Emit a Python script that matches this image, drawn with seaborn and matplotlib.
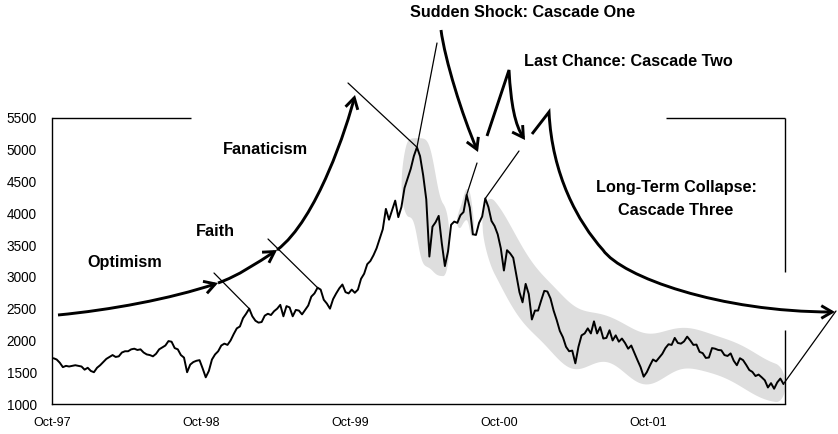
import numpy as np
import pandas as pd
import matplotlib
matplotlib.use("Agg")
import matplotlib.pyplot as plt
import seaborn as sns
from matplotlib.patches import FancyArrowPatch
from matplotlib.path import Path

# ---------------- data: index level, four readings per month ----------------
# Oct-97 .. Sep-98
year_97_98 = [1720, 1700, 1650, 1580,  1600, 1590, 1600, 1610,  1600, 1590, 1540, 1570,
              1520, 1500, 1570, 1610,  1660, 1710, 1740, 1770,  1740, 1750, 1810, 1830,
              1830, 1860, 1870, 1850,  1860, 1810, 1780, 1770,  1750, 1790, 1860, 1890,
              1920, 1990, 1980, 1880,  1860, 1770, 1730, 1500,  1620, 1660, 1680, 1690]
# Oct-98 .. Sep-99
year_98_99 = [1560, 1420, 1520, 1700,  1780, 1830, 1920, 1950,  1930, 2000, 2100, 2190,
              2220, 2350, 2420, 2500,  2380, 2310, 2280, 2290,  2390, 2420, 2400, 2460,
              2500, 2560, 2380, 2540,  2520, 2380, 2480, 2470,  2410, 2480, 2550, 2690,
              2740, 2830, 2800, 2640,  2580, 2500, 2650, 2740,  2820, 2880, 2760, 2740]
# Oct-99 .. Sep-00
year_99_00 = [2800, 2750, 2800, 2970,  3050, 3200, 3250, 3340,  3450, 3600, 3750, 4070,
              3900, 4050, 4200, 3940,  4100, 4400, 4550, 4700,  4900, 5040, 4900, 4600,
              4220, 3320, 3790, 3860,  3960, 3530, 3170, 3400,  3820, 3870, 3850, 3970,
              4020, 4290, 4090, 3670,  3660, 3850, 3950, 4234,  4100, 3880, 3800, 3670]
# Oct-00 .. Sep-01
year_00_01 = [3450, 3100, 3420, 3370,  3300, 3030, 2760, 2600,  2890, 2730, 2330, 2470,
              2470, 2630, 2780, 2770,  2660, 2470, 2320, 2150,  2050, 1900, 1830, 1840,
              1640, 1900, 2080, 2110,  2190, 2110, 2300, 2110,  2210, 2030, 2040, 2160,
              2000, 2080, 1980, 2030,  1960, 1870, 1920, 1805,  1690, 1580, 1430, 1500]
# Oct-01 .. Aug-02
year_01_02 = [1605, 1700, 1670, 1730,  1790, 1880, 1940, 1930,  2040, 1960, 1950, 1985,
              2060, 2000, 1930, 1935,  1820, 1800, 1725, 1731,  1880, 1870, 1850, 1845,
              1770, 1756, 1796, 1680,  1610, 1720, 1690, 1616,  1535, 1505, 1440, 1463,
              1420, 1373, 1260, 1328,  1240, 1340, 1400, 1315]

x_tick_labels = ["Oct-97", "Oct-98", "Oct-99", "Oct-00", "Oct-01"]
y_tick_values = [1000, 1500, 2000, 2500, 3000, 3500, 4000, 4500, 5000, 5500]

phase_labels = ["Optimism", "Faith", "Fanaticism",
                "Sudden Shock: Cascade One", "Last Chance: Cascade Two",
                "Long-Term Collapse:\nCascade Three"]

# ---------------- table ----------------
level = np.array(year_97_98 + year_98_99 + year_99_00 + year_00_01 + year_01_02, dtype=float)
month = (np.arange(len(level)) + 0.5) / 4.0      # months since 1 Oct 1997
df = pd.DataFrame({"month": month, "level": level})

X_MAX = 59.0
W_PX, H_PX = 838, 434
AX_L, AX_R, AX_T, AX_B = 52, 785, 118, 404      # axes box in image pixels


def P(px, py):
    """image pixel -> data coordinates (for annotation geometry)"""
    return ((px - AX_L) / (AX_R - AX_L) * X_MAX,
            1000 + (AX_B - py) / (AX_B - AX_T) * 4500)


sns.set_style("white")
plt.rcParams["font.family"] = ["Liberation Sans", "DejaVu Sans"]
plt.rcParams["text.color"] = "black"

fig = plt.figure(figsize=(W_PX / 100, H_PX / 100), dpi=100)
ax = fig.add_axes([AX_L / W_PX, 1 - AX_B / H_PX, (AX_R - AX_L) / W_PX, (AX_B - AX_T) / H_PX])

# ---------------- grey highlight bands derived from the series ----------------
def blob(x0, x1, W, sigma, pad_hi, pad_lo, cap_l, cap_r):
    xf = np.linspace(x0, x1, 500)
    seg = (month >= x0) & (month <= x1)
    xm, ym = month[seg], level[seg]
    hi = np.array([ym[np.abs(xm - t) <= W].max() for t in xf])
    lo = np.array([ym[np.abs(xm - t) <= W].min() for t in xf])
    dx = xf[1] - xf[0]
    n = max(1, int(3 * sigma / dx))
    k = np.arange(-n, n + 1) * dx
    g = np.exp(-0.5 * (k / sigma) ** 2)
    g /= g.sum()
    hi = np.convolve(np.pad(hi, n, mode="edge"), g, mode="valid") + pad_hi
    lo = np.convolve(np.pad(lo, n, mode="edge"), g, mode="valid") - pad_lo
    c, h = (hi + lo) / 2, (hi - lo) / 2
    tl = np.clip((xf - x0) / cap_l, 0, 1)
    tr = np.clip((x1 - xf) / cap_r, 0, 1)
    f = np.sqrt(1 - (1 - tl) ** 2) * np.sqrt(1 - (1 - tr) ** 2)
    ax.fill_between(xf, c - h * f, c + h * f, color="#dedede", lw=0, zorder=1)


blob(28.1, 31.95, 1.0, 0.3, 150, 150, 0.6, 0.5)
blob(32.55, 33.95, 0.3, 0.15, 110, 110, 0.4, 0.4)
blob(34.6, X_MAX, 1.0, 1.2, 180, 220, 1.0, 0.8)

# ---------------- the series ----------------
sns.lineplot(data=df, x="month", y="level", color="black", lw=1.4, ax=ax, zorder=3)

ax.set_xlim(0, X_MAX)
ax.set_ylim(1000, 5500)
ax.set_xlabel("")
ax.set_ylabel("")
ax.set_xticks([0, 12, 24, 36, 48])
ax.set_xticklabels(x_tick_labels, fontsize=9)
ax.set_xticks([m for m in range(1, 59) if m % 12 != 0], minor=True)
ax.set_yticks(y_tick_values)
ax.set_yticklabels([str(v) for v in y_tick_values], fontsize=9.8)
ax.tick_params(axis="x", which="major", direction="out", length=5, width=1, pad=4, colors="black")
ax.tick_params(axis="x", which="minor", direction="in", length=4, width=0.9, colors="black")
ax.tick_params(axis="y", which="major", direction="out", length=5, width=1, pad=6, colors="black")

for s in ["top", "right"]:
    ax.spines[s].set_visible(False)
for s in ["left", "bottom"]:
    ax.spines[s].set_color("black")
    ax.spines[s].set_linewidth(1.0)

# partial frame lines
frame_kw = dict(color="black", lw=1.0, clip_on=False, zorder=2, solid_capstyle="butt")
for (a, b) in [((AX_L, AX_T), (191, AX_T)), ((666, AX_T), (AX_R, AX_T)),
               ((AX_R, AX_T), (AX_R, 272)), ((AX_R, 330), (AX_R, AX_B))]:
    pa, pb = P(*a), P(*b)
    ax.plot([pa[0], pb[0]], [pa[1], pb[1]], **frame_kw)


# ---------------- thick arrows ----------------
def arrow(points, codes):
    verts = [P(*p) for p in points]
    pa = FancyArrowPatch(path=Path(verts, codes), arrowstyle="->,head_length=0.6,head_width=0.35",
                         mutation_scale=13, lw=2.1, color="black", zorder=5, clip_on=False,
                         joinstyle="miter", capstyle="butt")
    ax.add_patch(pa)


M, C4, LT = Path.MOVETO, Path.CURVE4, Path.LINETO
arrow([(58, 315), (110, 310), (170, 299), (218, 283)], [M, C4, C4, C4])
arrow([(218, 283), (238, 276), (257, 263), (277, 250)], [M, C4, C4, C4])
arrow([(277, 250), (317, 220), (347.5, 125), (355, 95)], [M, C4, C4, C4])
arrow([(441, 30), (445, 60), (462, 115), (478, 152)], [M, C4, C4, C4])
arrow([(487, 136), (509, 70), (511, 105), (515, 125), (525, 140)], [M, LT, C4, C4, C4])
arrow([(532, 134), (549, 112), (552, 175), (578, 222), (603, 250),
       (622, 277), (720, 312), (835, 312)], [M, LT, C4, C4, C4, C4, C4, C4])


# ---------------- thin pointer lines to the series ----------------
def peak(m0, m1):
    sel = (month >= m0) & (month <= m1)
    i = np.argmax(np.where(sel, level, -np.inf))
    return month[i], level[i]


thin_kw = dict(color="black", lw=0.9, clip_on=False, zorder=4)
for start, target in [((214, 273), peak(15, 16.5)), ((268, 239), peak(20.5, 22)),
                      ((348, 83), peak(28.5, 30)), ((437, 43), peak(28.5, 30)),
                      ((477, 163), peak(33, 34)), ((519, 151), peak(34.5, 35.5))]:
    s = P(*start)
    ax.plot([s[0], target[0]], [s[1], target[1]], **thin_kw)
end_pt = P(836, 311)
ax.plot([month[-1], end_pt[0]], [level[-1], end_pt[1]], **thin_kw)

# ---------------- phase labels ----------------
txt_kw = dict(fontsize=11.7, fontweight="bold", ha="center", va="center", zorder=6,
              clip_on=False, linespacing=1.6, color="black")
for label, pos in zip(phase_labels, [(125, 263), (215, 232), (265, 150),
                                     (523, 13), (628, 62), (676, 199)]):
    ax.text(*P(*pos), label, **txt_kw)

fig.savefig("out.png", dpi=100)
